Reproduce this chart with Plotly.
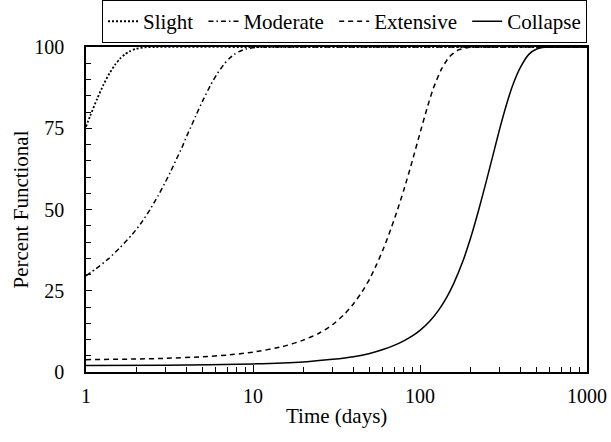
import plotly.graph_objects as go

# Time (days) and percent functional
slight_t = [1, 1.059, 1.167, 1.275, 1.383, 1.491, 1.599, 1.707, 1.815, 1.977, 2.25, 2.6, 10, 100, 1000]
slight_v = [75.5, 78.8, 84.1, 88.5, 91.9, 94.5, 96.4, 97.7, 98.6, 99.4, 99.9, 100, 100, 100, 100]

moderate_t = [1, 1.15, 1.36, 1.6, 1.89, 2.15, 2.42, 2.7, 2.95, 3.2, 3.48, 3.75, 4.01, 4.3,
              4.54, 5.07, 5.6, 6.13, 6.66, 7.19, 7.72, 8.25, 9.05, 10.4, 12, 100, 1000]
moderate_v = [29.6, 31.8, 34.8, 38.3, 42.3, 46.0, 50.0, 54.2, 57.9, 61.5, 65.5, 69.0, 72.6, 76.0,
              78.8, 84.1, 88.5, 91.9, 94.5, 96.4, 97.7, 98.6, 99.4, 99.9, 100, 100, 100]

extensive_t = [1, 2, 3, 5, 7, 10, 15, 20, 25, 30, 35, 40, 45, 50, 55, 60, 65, 73,
               80, 90, 100, 110, 120, 135, 150, 170, 200, 250, 1000]
extensive_v = [3.8, 4.0, 4.2, 4.7, 5.2, 6.1, 7.8, 9.8, 12.0, 14.6, 17.6, 21.0, 24.7, 28.7,
               33.1, 37.6, 42.2, 49.6, 56.0, 65.0, 73.5, 81.0, 87.2, 93.4, 97.0, 99.1, 99.9, 100, 100]

collapse_t = [1, 3, 10, 20, 30, 40, 50, 60, 70, 80, 90, 100, 115, 130, 145, 160, 180,
              200, 225, 250, 275, 300, 330, 360, 400, 450, 500, 560, 650, 1000]
collapse_v = [2.0, 2.1, 2.5, 3.1, 3.9, 4.7, 5.7, 6.9, 8.2, 9.6, 11.1, 12.8, 15.8, 19.2,
              23.1, 27.5, 33.9, 40.9, 50.0, 58.9, 67.2, 74.8, 82.4, 88.4, 93.8, 97.8, 99.4, 99.9, 100, 100]

y_ticks = [0, 25, 50, 75, 100]
x_ticks = [1, 10, 100, 1000]
x_minor = [m * d for d in (1, 10, 100) for m in range(2, 10)]

FONT = "Liberation Serif"
NB = "\u00a0"

series = [
    ("Slight" + NB, slight_t, slight_v, "2px,2px", 1.8),
    ("Moderate" + NB, moderate_t, moderate_v, "5px,3px,1.5px,3px", 1.5),
    ("Extensive" + NB, extensive_t, extensive_v, "5px,4px", 1.5),
    ("Collapse", collapse_t, collapse_v, "solid", 1.5),
]

fig = go.Figure()
for name, t, v, dash, w in series:
    fig.add_trace(go.Scatter(
        x=t, y=v, mode="lines", name=name,
        line=dict(color="black", width=w, dash=dash, shape="spline", smoothing=0.6),
    ))

fig.update_layout(
    width=611, height=442,
    margin=dict(l=86, r=24, t=47, b=70, autoexpand=False),
    paper_bgcolor="white", plot_bgcolor="white",
    font=dict(family=FONT, size=20, color="black"),
    showlegend=True,
    legend=dict(
        orientation="h", x=1, xanchor="right", y=1.012, yanchor="bottom",
        bordercolor="black", borderwidth=1, bgcolor="white",
        font=dict(family=FONT, size=21, color="black"),
    ),
    annotations=[
        dict(text="Time (days)", xref="paper", yref="paper", x=0.5, y=-0.135,
             xanchor="center", yanchor="middle", showarrow=False,
             font=dict(family=FONT, size=21, color="black")),
        dict(text="Percent Functional", xref="paper", yref="paper", x=-0.1317, y=0.5,
             xanchor="center", yanchor="middle", showarrow=False, textangle=-90,
             font=dict(family=FONT, size=21, color="black")),
    ],
)

fig.update_xaxes(
    type="log", range=[0, 3],
    tickvals=x_ticks, ticktext=[str(v) for v in x_ticks],
    ticks="inside", ticklen=7, tickwidth=1, tickcolor="black",
    minor=dict(tickvals=x_minor, ticks="inside", ticklen=5, tickwidth=1,
               tickcolor="black", showgrid=False),
    showline=True, linecolor="black", linewidth=1.5, mirror=True,
    showgrid=False, zeroline=False,
    tickfont=dict(family=FONT, size=20, color="black"),
    ticklabelstandoff=5,
    automargin=False,
)
fig.update_yaxes(
    range=[0, 100],
    tickvals=y_ticks,
    ticks="inside", ticklen=6, tickwidth=1, tickcolor="black",
    minor=dict(dtick=5, ticks="inside", ticklen=5, tickwidth=1,
               tickcolor="black", showgrid=False),
    showline=True, linecolor="black", linewidth=1.5, mirror=True,
    showgrid=False, zeroline=False,
    tickfont=dict(family=FONT, size=20, color="black"),
    ticklabelstandoff=16,
    automargin=False,
)

fig.write_html("out.html")
